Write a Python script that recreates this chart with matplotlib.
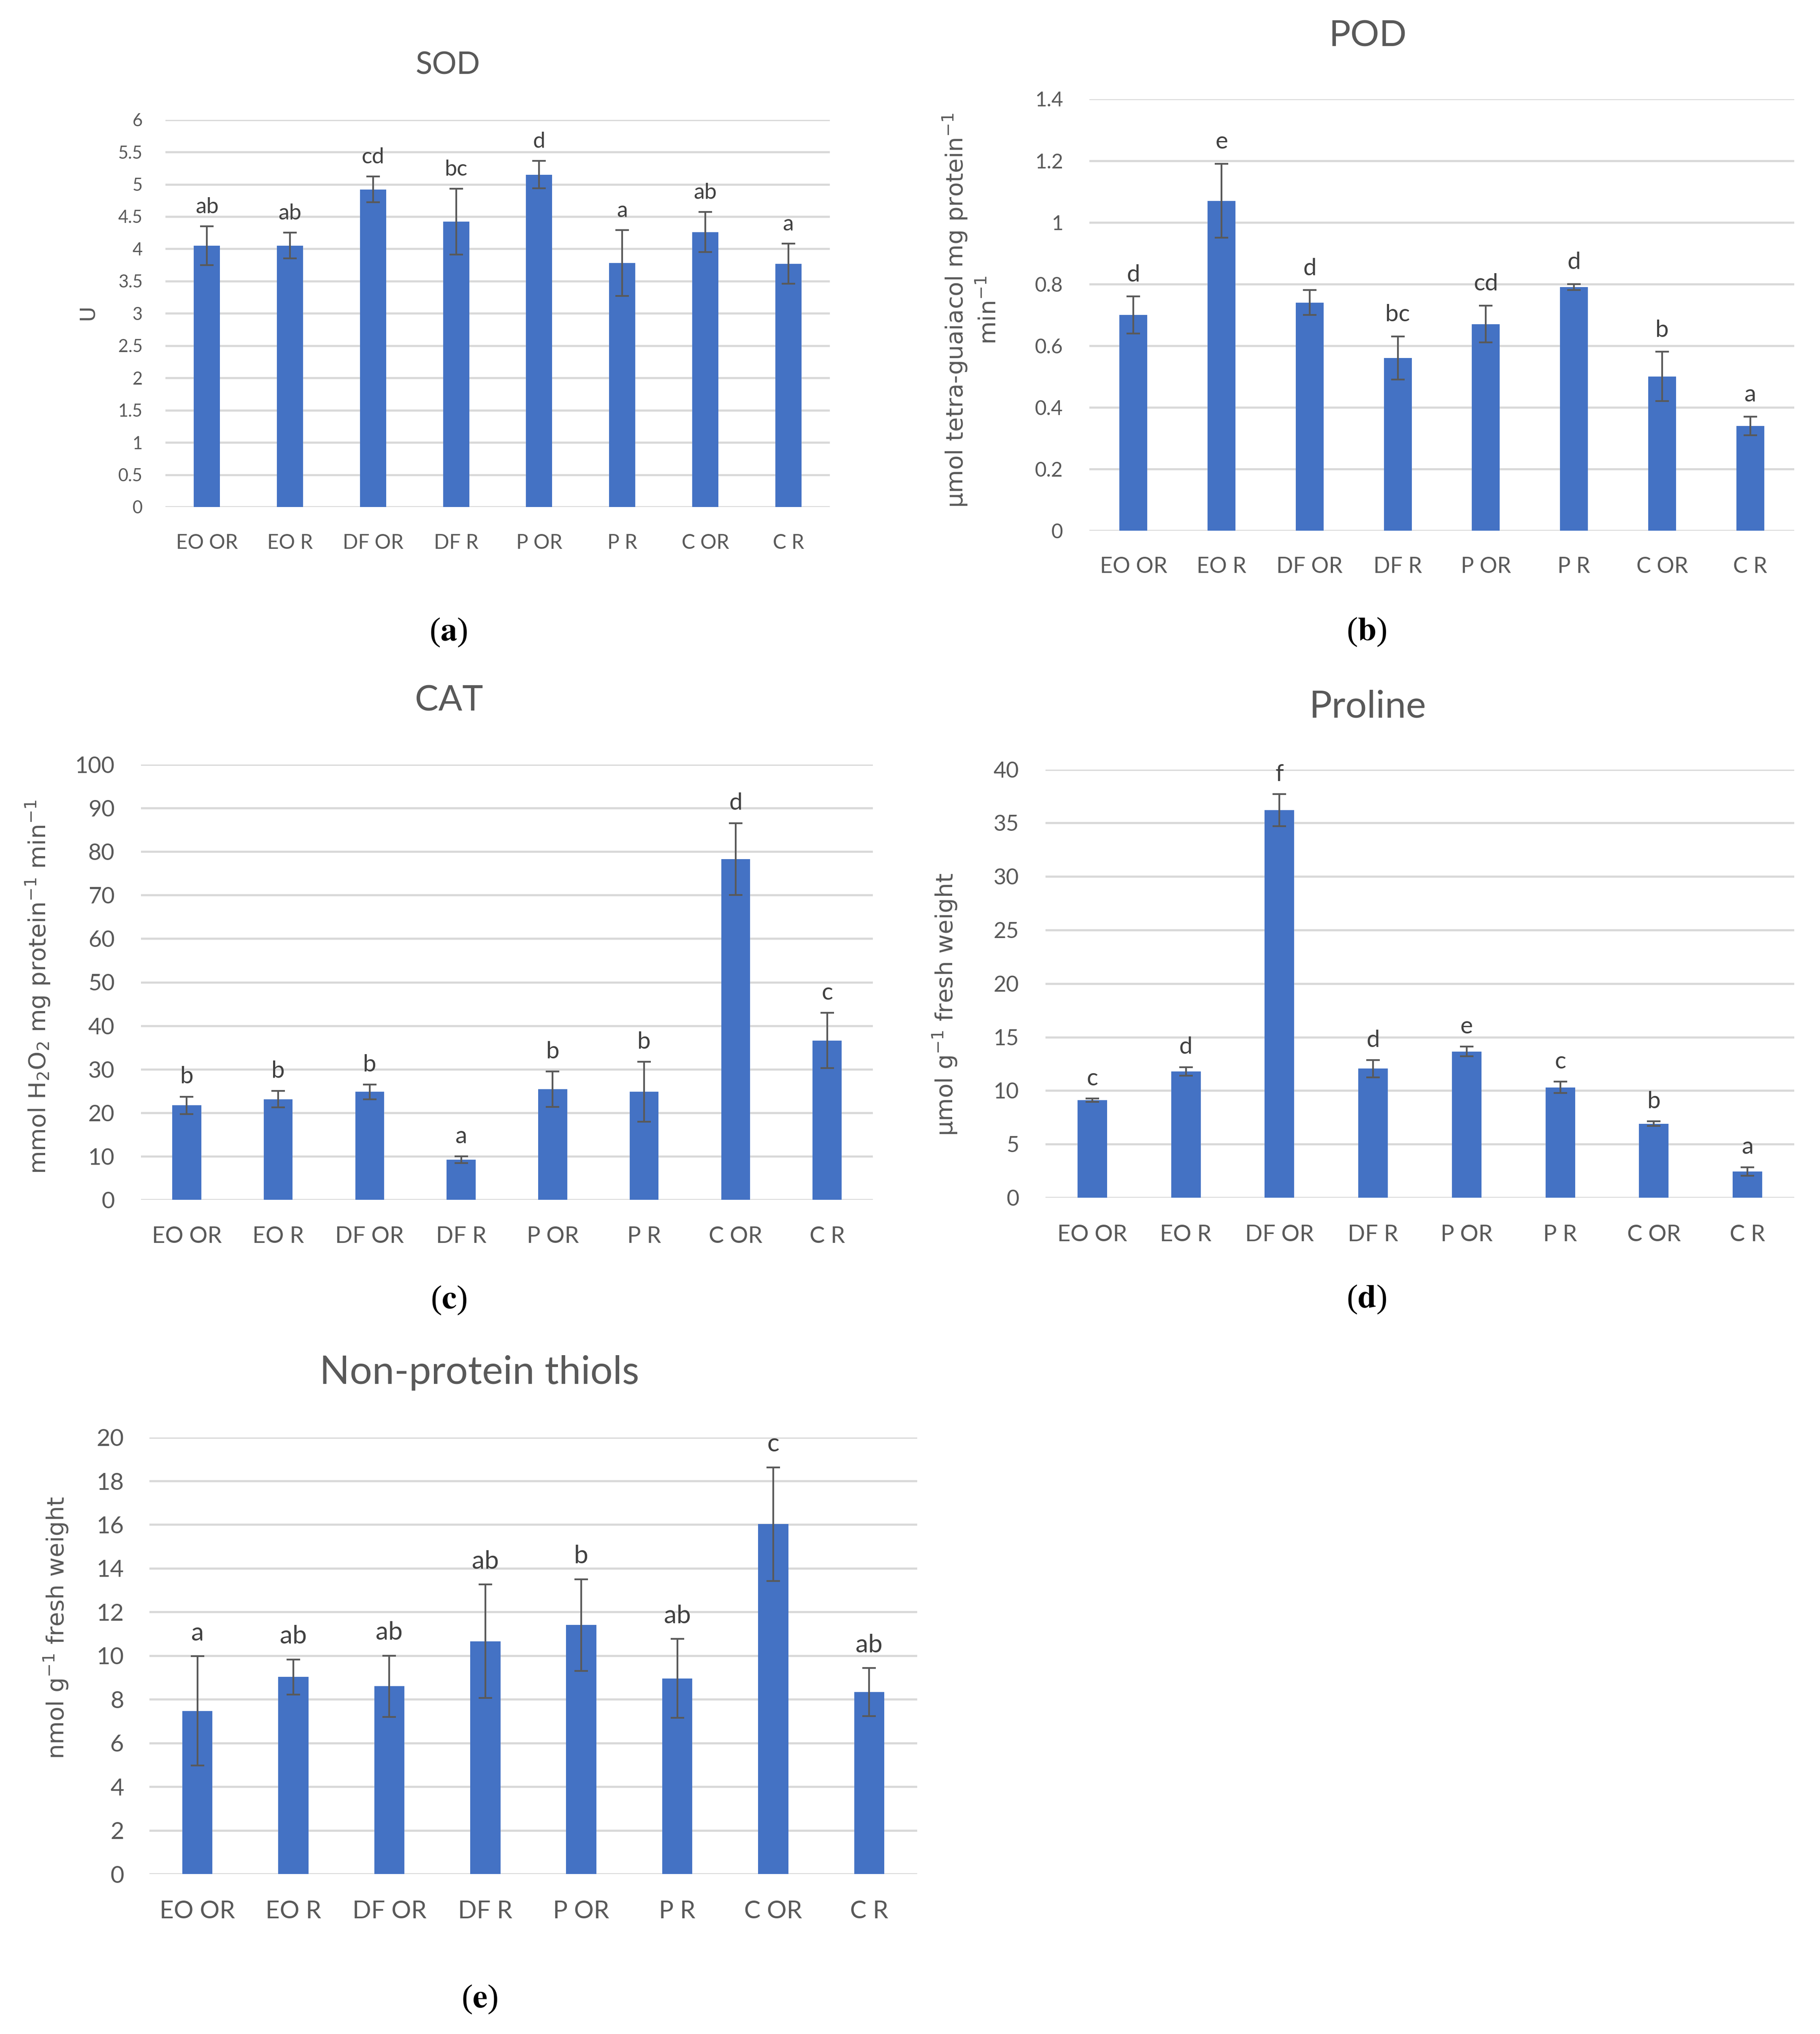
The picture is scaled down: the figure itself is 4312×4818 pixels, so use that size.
import matplotlib
matplotlib.use("Agg")
import matplotlib.pyplot as plt
from matplotlib.ticker import MultipleLocator, FuncFormatter

# ---------------- data ----------------
categories = ["EO OR", "EO R", "DF OR", "DF R", "P OR", "P R", "C OR", "C R"]

sod_mean = [4.05, 4.05, 4.92, 4.42, 5.15, 3.78, 4.26, 3.77]
sod_err = [0.30, 0.20, 0.20, 0.51, 0.21, 0.51, 0.31, 0.31]
sod_letters = ["ab", "ab", "cd", "bc", "d", "a", "ab", "a"]

pod_mean = [0.70, 1.07, 0.74, 0.56, 0.67, 0.79, 0.50, 0.34]
pod_err = [0.06, 0.12, 0.04, 0.07, 0.06, 0.01, 0.08, 0.03]
pod_letters = ["d", "e", "d", "bc", "cd", "d", "b", "a"]

cat_mean = [21.7, 23.1, 24.8, 9.2, 25.4, 24.8, 78.3, 36.6]
cat_err = [2.0, 1.9, 1.7, 0.75, 4.1, 6.9, 8.25, 6.35]
cat_letters = ["b", "b", "b", "a", "b", "b", "d", "c"]

pro_mean = [9.1, 11.8, 36.2, 12.05, 13.65, 10.3, 6.92, 2.45]
pro_err = [0.15, 0.40, 1.5, 0.80, 0.45, 0.53, 0.20, 0.40]
pro_letters = ["c", "d", "f", "d", "e", "c", "b", "a"]

npt_mean = [7.47, 9.02, 8.60, 10.66, 11.40, 8.96, 16.02, 8.33]
npt_err = [2.5, 0.81, 1.4, 2.6, 2.1, 1.8, 2.6, 1.1]
npt_letters = ["a", "ab", "ab", "ab", "b", "ab", "c", "ab"]

# ---------------- style ----------------
W, H = 4312, 4818
DPI = 300
BAR = "#4472C4"
GRID = "#D9D9D9"
TXT = "#595959"
LET = "#404040"
ERR = "#595959"
TICKFONT = "Lato"
LABFONT = "DejaVu Sans"

fig = plt.figure(figsize=(W / DPI, H / DPI), dpi=DPI)
fig.patch.set_facecolor("white")


def fx(x):
    return x / W


def fy(y):
    return 1 - y / H


def panel(box, means, errs, letters, ymax, ystep, title, title_xy, title_fs,
          ytick_fs, xtick_fs, let_fs, ylabel_items, ypad=14.5, let_off=7.5):
    x0, y0, x1, y1 = box  # pixel coords: left, top, right, bottom
    ax = fig.add_axes([fx(x0), fy(y1), (x1 - x0) / W, (y1 - y0) / H])
    xs = list(range(len(categories)))
    ax.bar(xs, means, width=0.315, color=BAR, zorder=3)
    ax.errorbar(xs, means, yerr=errs, fmt="none", ecolor=ERR, elinewidth=1.0,
                capsize=3.8, capthick=1.0, zorder=4)
    for xi, m, e, lab in zip(xs, means, errs, letters):
        ax.annotate(lab, (xi, m + e), xytext=(0, let_off), textcoords="offset points",
                    ha="center", va="baseline", fontsize=let_fs,
                    family=TICKFONT, color=LET, zorder=5)
    ax.set_xlim(-0.5, len(categories) - 0.5)
    ax.set_ylim(0, ymax)
    ax.yaxis.set_major_locator(MultipleLocator(ystep))
    ax.yaxis.set_major_formatter(FuncFormatter(lambda v, p: "%g" % round(v, 6)))
    ax.set_xticks(xs)
    ax.set_xticklabels(categories)
    ax.grid(axis="y", color=GRID, linewidth=1.2, zorder=0)
    ax.set_axisbelow(True)
    for s in ax.spines.values():
        s.set_visible(False)
    ax.tick_params(axis="both", length=0)
    ax.tick_params(axis="x", pad=15, labelsize=xtick_fs, labelcolor=TXT)
    ax.tick_params(axis="y", pad=ypad, labelsize=ytick_fs, labelcolor=TXT)
    for t in ax.get_xticklabels() + ax.get_yticklabels():
        t.set_family(TICKFONT)
    fig.text(fx(title_xy[0]), fy(title_xy[1]), title, ha="center", va="center",
             fontsize=title_fs, family=TICKFONT, color=TXT)
    for (lx, ly, txt, fs) in ylabel_items:
        fig.text(fx(lx), fy(ly), txt, rotation=90, ha="center", va="center",
                 fontsize=fs, family=LABFONT, color=TXT)
    return ax


# (a) SOD
panel((392, 283.6, 1966, 1201), sod_mean, sod_err, sod_letters, 6, 0.5,
      "SOD", (1061, 155), 17.5, 10, 11.5, 12.5,
      [(207, 740, "U", 12)], ypad=13)

# (b) POD
panel((2581, 234.5, 4251, 1257), pod_mean, pod_err, pod_letters, 1.4, 0.2,
      "POD", (3241, 86), 20.5, 11.5, 12.5, 13.5,
      [(2263, 735, "µmol tetra-guaiacol mg protein$^{-1}$", 13.5),
       (2343, 735, "min$^{-1}$", 13.5)], ypad=15, let_off=8.5)

# (c) CAT
panel((334, 1811, 2068, 2842), cat_mean, cat_err, cat_letters, 100, 10,
      "CAT", (1064, 1661), 20, 13, 13, 13.5,
      [(90, 2338, "mmol H$_2$O$_2$ mg protein$^{-1}$ min$^{-1}$", 13.5)], ypad=15)

# (d) Proline
panel((2477, 1822.6, 4251, 2837), pro_mean, pro_err, pro_letters, 40, 5,
      "Proline", (3241, 1675), 21.5, 12.5, 13, 13.5,
      [(2239, 2380, "µmol g$^{-1}$ fresh weight", 13.5)], ypad=15)

# (e) Non-protein thiols
panel((354, 3404.6, 2173, 4439), npt_mean, npt_err, npt_letters, 20, 2,
      "Non-protein thiols", (1136, 3252), 22.5, 13.5, 14, 14.5,
      [(133, 3856, "nmol g$^{-1}$ fresh weight", 13.5)], ypad=14.5, let_off=9)

# panel labels
for lab, (px, py) in zip(["a", "b", "c", "d", "e"],
                         [(1062, 1498), (3238, 1497), (1063, 3080),
                          (3238, 3078), (1136, 4736)]):
    fig.text(fx(px), fy(py), "(" + r"$\mathbf{" + lab + "}$" + ")",
             ha="center", va="center", fontsize=19, family="Liberation Serif",
             math_fontfamily="stix", color="black")

fig.savefig("out.png", dpi=DPI, facecolor="white")
